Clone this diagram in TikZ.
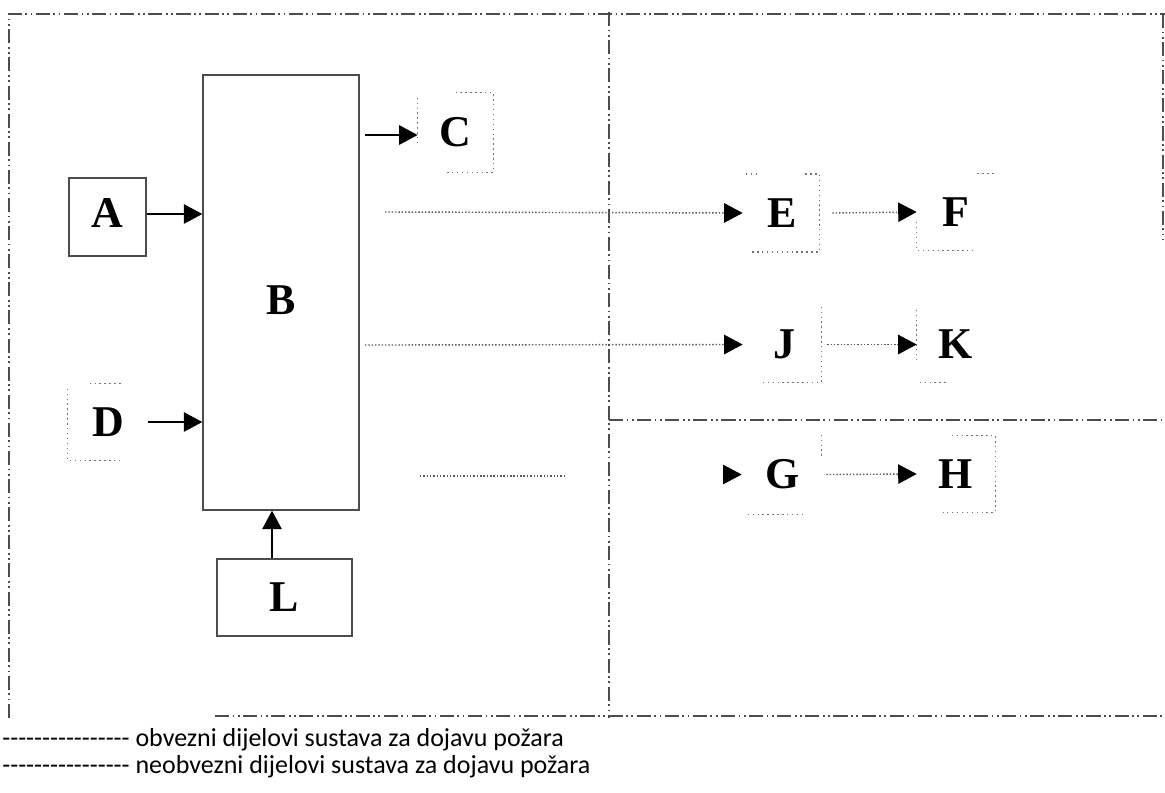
\documentclass[tikz,border=0pt]{standalone}
\usepackage{fontspec}
\setmainfont{Liberation Serif}
\newfontfamily\legendfont{Carlito}
\usetikzlibrary{arrows.meta}
\begin{document}
\begin{tikzpicture}[x=0.02cm,y=-0.02cm,
  letter/.style={inner sep=0pt, font=\fontsize{25}{25}\selectfont\bfseries},
  solidbox/.style={letter, draw=black!70, line width=0.8pt},
  frame/.style={draw=black!70, line width=1.1pt, dash pattern=on 8pt off 2pt on 1pt off 2pt on 1pt off 2pt},
  dotline/.style={draw=black!65, line width=0.8pt, dash pattern=on 0.8pt off 1.1pt},
  dotbox/.style={draw=black!55, line width=0.8pt, dash pattern=on 0.8pt off 2pt},
  tip/.style={-{Triangle[length=10.5pt,width=11pt,color=black,fill=black]}},
  solidarrow/.style={draw=black, line width=0.9pt, tip},
  dotarrow/.style={dotline, tip},
  legend/.style={anchor=west, inner sep=0pt, font=\legendfont\fontsize{14.8}{18}\selectfont}
]
\useasboundingbox (0,0) rectangle (1165,792);

% frame
\draw[frame] (9,718) -- (9,14) -- (1165,14);
\draw[frame] (1163,14) -- (1163,240);
\draw[frame] (609,12) -- (609,718);
\draw[frame] (609,420) -- (1165,420);
\draw[frame] (215,716) -- (1165,716);

% solid boxes
\node[solidbox, minimum width=3.12cm, minimum height=8.7cm,
      label={[letter, yshift=-0.16cm]center:B}] (B) at (281,292.5) {};
\node[solidbox, minimum width=1.54cm, minimum height=1.56cm,
      label={[letter, yshift=0.08cm]center:A}] (A) at (107.5,217) {};
\node[solidbox, minimum width=2.7cm, minimum height=1.54cm] (L) at (284.5,597.5) {L};

% dotted boxes (labels)
\node[letter, minimum width=1.5cm, minimum height=1.58cm] (C) at (455.5,132.5) {C};
\node[letter, minimum width=1.6cm, minimum height=1.52cm] (D) at (108,422) {D};
\node[letter, minimum width=1.46cm, minimum height=1.54cm] (E) at (782.5,213) {E};
\node[letter, minimum width=1.56cm, minimum height=1.52cm] (F) at (956,212) {F};
\node[letter, minimum width=1.46cm, minimum height=1.5cm] (J) at (784.5,344.5) {J};
\node[letter, minimum width=1.56cm, minimum height=1.5cm] (K) at (956,344.5) {K};
\node[letter, minimum width=1.52cm, minimum height=1.58cm] (G) at (783,474.5) {G};
\node[letter, minimum width=1.56cm, minimum height=1.52cm] (H) at (956,474) {H};

% fragments of dotted outlines
\draw[dotbox] (C.north) -- (C.north east) -- (C.south east) -- ([xshift=-0.18cm]C.south);
\draw[dotbox] ([yshift=-0.1cm]C.north west) -- ([yshift=-0.27cm]C.west);
\draw[dotbox] ([xshift=0.44cm]D.north west) -- ([xshift=1.1cm]D.north west);
\draw[dotbox] ([yshift=-0.1cm]D.north west) -- (D.south west) -- ([xshift=1.1cm]D.south west);
\draw[dotbox] (E.north west) -- ([xshift=0.28cm]E.north west);
\draw[dotbox] ([xshift=-0.28cm]E.north east) -- (E.north east) -- (E.south east) -- ([xshift=0.08cm]E.south west);
\draw[dotbox] ([yshift=-0.2cm]F.west) -- (F.south west) -- ([xshift=-0.4cm]F.south east);
\draw[dotbox] ([xshift=-0.36cm]F.north east) -- (F.north east);
\draw[dotbox] (J.north east) -- (J.south east) -- ([xshift=0.3cm]J.south west);
\draw[dotbox] ([yshift=-0.06cm]K.north west) -- ([yshift=-0.32cm]K.west);
\draw[dotbox] ([xshift=0.06cm]K.south west) -- ([xshift=0.58cm]K.south west);
\draw[dotbox] (G.north east) -- ([yshift=0.33cm]G.east);
\draw[dotbox] ([xshift=0.06cm]G.south west) -- ([xshift=1.18cm]G.south west);
\draw[dotbox] ([xshift=0.7cm]H.north west) -- (H.north east) -- (H.south east) -- ([xshift=0.52cm]H.south west);

% solid connectors
\draw[solidarrow] ([yshift=0.06cm]A.east) -- ([yshift=0.06cm]A.east -| B.west);
\draw[solidarrow] (D.east) -- (D.east -| B.west);
\draw[solidarrow] ([xshift=-0.25cm]L.north) -- ([xshift=-0.25cm]L.north |- B.south);
\coordinate (c0) at (365,135);
\draw[solidarrow] (c0) -- (C.west |- c0);

% dotted connectors
\coordinate (e0) at (385,212);
\draw[dotarrow] (e0) -- ([xshift=-0.06cm]E.west);
\draw[dotarrow] ([xshift=0.26cm]E.east) -- (F.west);
\coordinate (j0) at (365,345);
\draw[dotarrow] (j0) -- ([xshift=-0.1cm]J.west);
\draw[dotarrow] ([xshift=0.12cm]J.east) -- (K.west);
\coordinate (g0) at (420,476);
\coordinate (g1) at (566,476);
\draw[dotline] (g0) -- (g1);
\draw[tip, draw=black] ([xshift=-0.44cm]G.west) -- ([xshift=-0.06cm]G.west);
\draw[dotarrow] ([xshift=0.1cm]G.east) -- (H.west);

% legend
\node[legend] (leg1) at (2,740) {-{}-{}-{}-{}-{}-{}-{}-{}-{}-{}-{}-{}-{}-{}-{}-{} obvezni dijelovi sustava za dojavu požara};
\node[legend] (leg2) at (2,767) {-{}-{}-{}-{}-{}-{}-{}-{}-{}-{}-{}-{}-{}-{}-{}-{} neobvezni dijelovi sustava za dojavu požara};
\end{tikzpicture}
\end{document}
